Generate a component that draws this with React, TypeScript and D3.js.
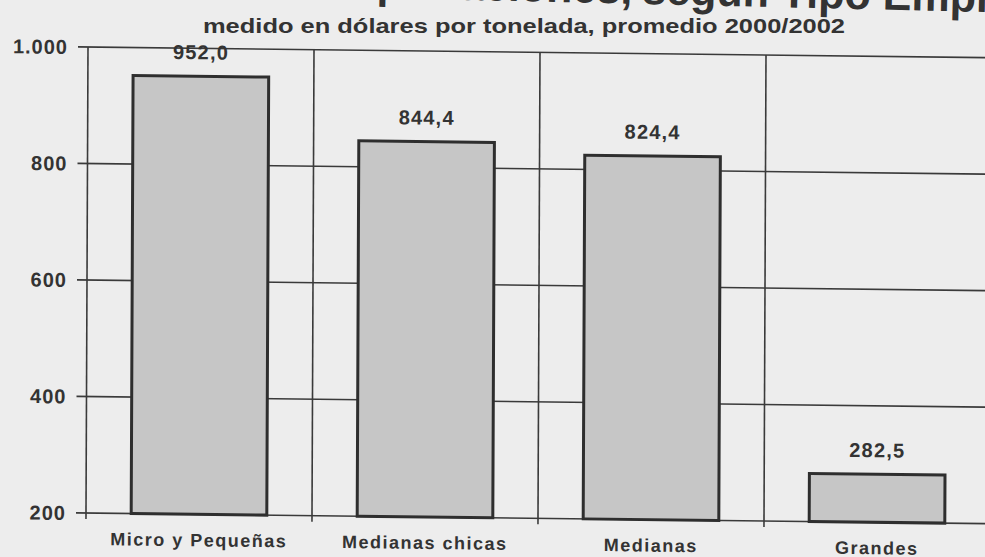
import React from "react";
import * as d3 from "d3";

const categories = ["Micro y Pequeñas", "Medianas chicas", "Medianas", "Grandes"];
const values = [952.0, 844.4, 824.4, 282.5];
const valueLabels = ["952,0", "844,4", "824,4", "282,5"];
const yTicks = [200, 400, 600, 800, 1000];
const yTickLabels = ["200", "400", "600", "800", "1.000"];
const titleLeft = "Precio de las Exportaciones,";
const titleRight = "según Tipo Empresa";
const subtitle = "medido en dólares por tonelada, promedio 2000/2002";

const W = 985;
const H = 557;
const x0 = 88;
const x1 = 992;
const yTop = 47;
const yBot = 513;

export default function App() {
  const x = d3.scaleBand<string>().domain(categories).range([x0, x1]).paddingInner(0.4).paddingOuter(0.2);
  const y = d3.scaleLinear().domain([200, 1000]).range([yBot, yTop]);
  const step = x.step();
  const boundaries = d3.range(categories.length + 1).map((i) => x0 + i * step);
  const b = 0.0118;
  const c = -0.0043;
  const skew = `matrix(1, ${b}, ${c}, 1, ${-c * yTop}, ${-b * x0})`;
  const font = "'Liberation Sans', Arial, sans-serif";
  const ink = "#333";
  return (
    <svg width={W} height={H} style={{ position: "absolute", left: 0, top: 0 }} fontFamily={font}>
      <rect x={0} y={0} width={W} height={H} fill="#ededed" />
      <g transform="rotate(1.35, 985, 12)">
        <text x={632} y={12} textAnchor="end" fontSize={43} fontWeight="bold" fill={ink}>{titleLeft}</text>
        <text x={642} y={12} textAnchor="start" fontSize={43} fontWeight="bold" fill={ink}>{titleRight}</text>
      </g>
      <text x={203} y={33} fontSize={21} fontWeight="bold" fill={ink} textLength={642} lengthAdjust="spacingAndGlyphs">{subtitle}</text>
      <g transform={skew}>
        {yTicks.map((t, i) => (
          <g key={t}>
            <line x1={x0 - 10} x2={x1} y1={y(t)} y2={y(t)} stroke="#3a3a3a" strokeWidth={1.6} />
            <text x={68} y={y(t)} dy="0.36em" textAnchor="end" fontSize={20} fontWeight="bold" fill={ink} letterSpacing={1}>{yTickLabels[i]}</text>
          </g>
        ))}
        {boundaries.map((bx, i) => (
          <line key={i} x1={bx} x2={bx} y1={yTop} y2={yBot + 6} stroke="#3a3a3a" strokeWidth={1.6} />
        ))}
        {categories.map((cat, i) => (
          <g key={cat}>
            <rect x={x(cat)} y={y(values[i])} width={x.bandwidth()} height={yBot - y(values[i])} fill="#c6c6c6" stroke="#2e2e2e" strokeWidth={3} />
            <text x={(x(cat) as number) + x.bandwidth() / 2} y={y(values[i]) - 17} textAnchor="middle" fontSize={20} fontWeight="bold" fill={ink} letterSpacing={1.2}>{valueLabels[i]}</text>
            <text x={(x(cat) as number) + x.bandwidth() / 2} y={yBot + 32} textAnchor="middle" fontSize={18} fontWeight="bold" fill={ink} letterSpacing={1.5}>{cat}</text>
          </g>
        ))}
      </g>
    </svg>
  );
}
